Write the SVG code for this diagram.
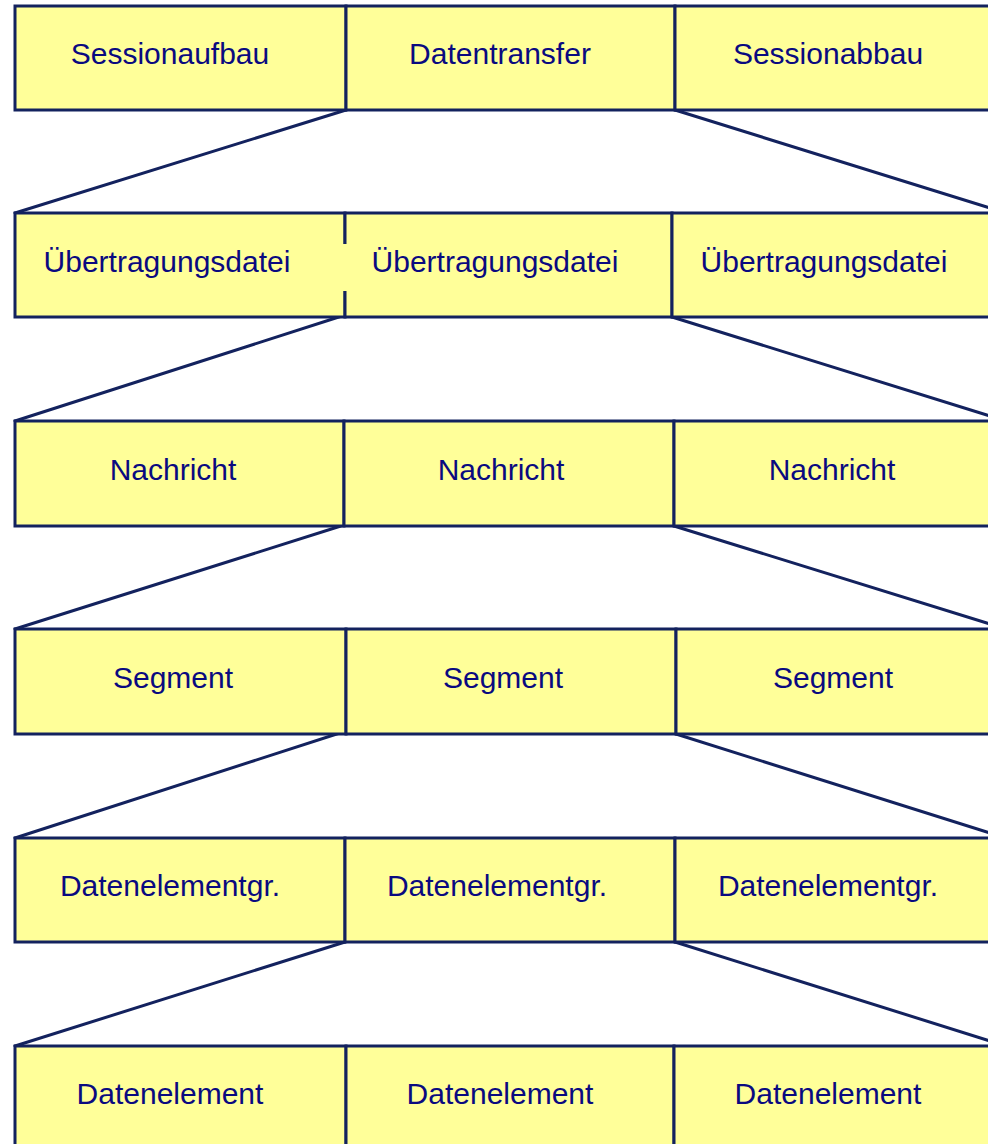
<svg xmlns="http://www.w3.org/2000/svg" width="988" height="1144" viewBox="0 0 988 1144">
  <style>
    .cell { fill: #FFFF99; stroke: #13225E; stroke-width: 3; }
    .lbl { font-family: "Liberation Sans", Arial, sans-serif; font-size: 30px; fill: #0A0A80; text-anchor: middle; }
    .conn { stroke: #13225E; stroke-width: 3; fill: none; stroke-linecap: round; }
    .mask { fill: #FFFF99; stroke: none; }
  </style>
  <rect width="988" height="1144" fill="#FFFFFF"/>

  <!-- zoom connectors: each cell fans out into the row below -->
  <g id="connectors">
    <line class="conn" x1="346" y1="110" x2="15" y2="213"/>
    <line class="conn" x1="675" y1="110" x2="1006" y2="213"/>
    <line class="conn" x1="345" y1="315" x2="15" y2="421"/>
    <line class="conn" x1="672" y1="317" x2="1006" y2="421"/>
    <line class="conn" x1="344" y1="525" x2="15" y2="629"/>
    <line class="conn" x1="674" y1="526" x2="1006" y2="629"/>
    <line class="conn" x1="346" y1="731" x2="15" y2="838"/>
    <line class="conn" x1="676" y1="734" x2="1006" y2="838"/>
    <line class="conn" x1="345" y1="942" x2="15" y2="1046"/>
    <line class="conn" x1="675" y1="942" x2="1006" y2="1046"/>
  </g>

  <!-- row 1: session -->
  <g id="row1">
    <g id="sessionaufbau"><rect class="cell" x="15" y="6" width="331" height="104"/><text class="lbl" x="170" y="64">Sessionaufbau</text></g>
    <g id="datentransfer"><rect class="cell" x="346" y="6" width="329" height="104"/><text class="lbl" x="500" y="64">Datentransfer</text></g>
    <g id="sessionabbau"><rect class="cell" x="675" y="6" width="331" height="104"/><text class="lbl" x="828" y="64">Sessionabbau</text></g>
  </g>

  <!-- row 2: transfer files -->
  <g id="row2">
    <g id="uebertragungsdatei1"><rect class="cell" x="15" y="213" width="330" height="104"/><text class="lbl" x="167" y="272">Übertragungsdatei</text></g>
    <g id="uebertragungsdatei2"><rect class="cell" x="345" y="213" width="327" height="104"/><rect class="mask" x="343" y="244" width="300" height="47"/><text class="lbl" x="495" y="272">Übertragungsdatei</text></g>
    <g id="uebertragungsdatei3"><rect class="cell" x="672" y="213" width="334" height="104"/><text class="lbl" x="824" y="272">Übertragungsdatei</text></g>
  </g>

  <!-- row 3: messages -->
  <g id="row3">
    <g id="nachricht1"><rect class="cell" x="15" y="421" width="329" height="105"/><text class="lbl" x="173" y="480">Nachricht</text></g>
    <g id="nachricht2"><rect class="cell" x="344" y="421" width="330" height="105"/><text class="lbl" x="501" y="480">Nachricht</text></g>
    <g id="nachricht3"><rect class="cell" x="674" y="421" width="332" height="105"/><text class="lbl" x="832" y="480">Nachricht</text></g>
  </g>

  <!-- row 4: segments -->
  <g id="row4">
    <g id="segment1"><rect class="cell" x="15" y="629" width="331" height="105"/><text class="lbl" x="173" y="688">Segment</text></g>
    <g id="segment2"><rect class="cell" x="346" y="629" width="330" height="105"/><text class="lbl" x="503" y="688">Segment</text></g>
    <g id="segment3"><rect class="cell" x="676" y="629" width="330" height="105"/><text class="lbl" x="833" y="688">Segment</text></g>
  </g>

  <!-- row 5: data element groups -->
  <g id="row5">
    <g id="datenelementgr1"><rect class="cell" x="15" y="838" width="330" height="104"/><text class="lbl" x="170" y="896">Datenelementgr.</text></g>
    <g id="datenelementgr2"><rect class="cell" x="345" y="838" width="330" height="104"/><text class="lbl" x="497" y="896">Datenelementgr.</text></g>
    <g id="datenelementgr3"><rect class="cell" x="675" y="838" width="331" height="104"/><text class="lbl" x="828" y="896">Datenelementgr.</text></g>
  </g>

  <!-- row 6: data elements -->
  <g id="row6">
    <g id="datenelement1"><rect class="cell" x="15" y="1046" width="331" height="110"/><text class="lbl" x="170" y="1104">Datenelement</text></g>
    <g id="datenelement2"><rect class="cell" x="346" y="1046" width="328" height="110"/><text class="lbl" x="500" y="1104">Datenelement</text></g>
    <g id="datenelement3"><rect class="cell" x="674" y="1046" width="332" height="110"/><text class="lbl" x="828" y="1104">Datenelement</text></g>
  </g>
</svg>
